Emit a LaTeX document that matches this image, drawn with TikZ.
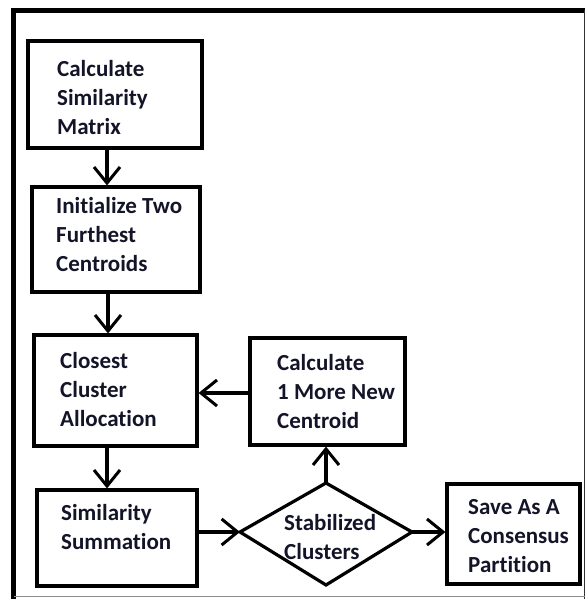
\documentclass[tikz,border=0pt]{standalone}
\usepackage{fontspec}
\setmainfont[Ligatures=NoCommon]{Carlito}
\usetikzlibrary{arrows.meta}
\definecolor{txtc}{rgb}{0.08,0.08,0.16}
\tikzset{
  box/.style={draw=black, line width=3.2pt, inner sep=0pt, fill=none},
  txt/.style={anchor=base west, align=left, inner sep=0pt, text=txtc,
    font=\fontsize{23}{28.8}\selectfont\bfseries},
  conn/.style={line width=3.2pt, -{Straight Barb[length=16pt,width=26pt,line width=3pt]}},
}
\begin{document}
\begin{tikzpicture}[x=1pt,y=-1pt]
\useasboundingbox (0,0) rectangle (587,599);
% frame
\draw[line width=4.5pt] (13.5,599) -- (13.5,10.5) -- (585,10.5);
\draw[line width=1.8pt, black!80] (584.5,10.5) -- (584.5,599);
\draw[line width=1pt, black!45] (13.5,596.5) -- (584.5,596.5);
% boxes
\node[box, minimum width=174pt, minimum height=107pt] (b1) at (115,94.5) {};
\node[box, minimum width=168pt, minimum height=105pt] (b2) at (116,239.5) {};
\node[box, minimum width=163pt, minimum height=111pt] (b3) at (115.5,390.5) {};
\node[box, minimum width=160pt, minimum height=96pt] (b4) at (117,538) {};
\node[box, minimum width=155pt, minimum height=107pt] (b5) at (327.5,391.5) {};
\node[box, minimum width=133pt, minimum height=100pt] (b6) at (513.5,534) {};
\coordinate (dL) at (240,532);
\coordinate (dR) at (412,532);
\coordinate (dT) at (326,483);
\coordinate (dB) at (326,585);
\draw[line width=3.2pt, line join=miter] (dL) -- (dT) -- (dR) -- (dB) -- cycle;
% texts (anchored at the baseline of the last line)
\node[txt] (t1) at (57,134) {Calculate\\Similarity\\Matrix};
\node[txt] (t2) at (56,271) {Initialize Two\\Furthest\\Centroids};
\node[txt] (t3) at (60,426) {Closest\\Cluster\\Allocation};
\node[txt] (t4) at (61,549) {Similarity\\Summation};
\node[txt] (t5) at (277,428) {Calculate\\1 More New\\Centroid};
\node[txt] (t6) at (468,572) {Save As A\\Consensus\\Partition};
\node[txt] (t7) at (284,559) {Stabilized\\Clusters};
% connectors
\draw[conn] (b1.south -| 107,0) -- (b2.north -| 107,0);
\draw[conn] (b2.south -| 108,0) -- (b3.north -| 108,0);
\draw[conn] (b3.south -| 107,0) -- (b4.north -| 107,0);
\draw[conn] (b5.west |- 0,393) -- (b3.east |- 0,393);
\draw[conn] (b4.east |- dL) -- (dL);
\draw[conn] (dT) -- (b5.south -| dT);
\draw[conn] (dR) -- (b6.west |- dR);
\end{tikzpicture}
\end{document}
